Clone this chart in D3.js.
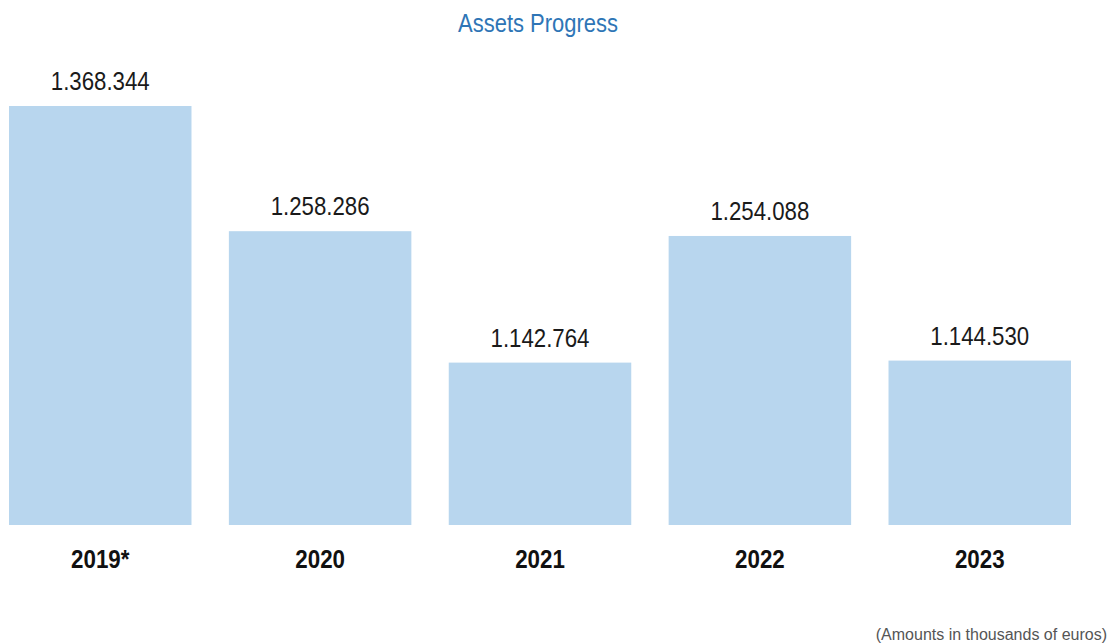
<!DOCTYPE html>
<html>
<head>
<meta charset="utf-8">
<script src="https://cdn.jsdelivr.net/npm/d3@7"></script>
<style>
  html, body { margin: 0; padding: 0; background: #fff; }
  svg { display: block; }
</style>
</head>
<body>
<svg id="chart" width="1110" height="644"></svg>
<script>
// Total assets per year (thousands of euros)
const years = ["2019*", "2020", "2021", "2022", "2023"];
const assets = [1368344, 1258286, 1142764, 1254088, 1144530];
const valueLabels = ["1.368.344", "1.258.286", "1.142.764", "1.254.088", "1.144.530"];

const W = 1110, H = 644;
const svg = d3.select("#chart");
const SANS = "'Liberation Sans', Arial, sans-serif";

const x = d3.scaleBand()
  .domain(years)
  .range([9, 1071])
  .paddingInner(0.17)
  .paddingOuter(0);

const y = d3.scaleLinear()
  .domain([1000000, 1368344])
  .range([525, 106]);

// Condensed text: horizontal squeeze around the anchor point
function narrowText(sel, sx) {
  sel.attr("transform", function () {
    const cx = +this.getAttribute("data-x"), cy = +this.getAttribute("data-y");
    return `translate(${cx},${cy}) scale(${sx},1)`;
  });
}

// Title
svg.append("text")
  .attr("data-x", 538).attr("data-y", 32)
  .attr("text-anchor", "middle")
  .attr("font-family", SANS)
  .attr("font-size", 26)
  .attr("fill", "#2e75b6")
  .text("Assets Progress")
  .call(narrowText, 0.845);

// Bars
svg.selectAll("rect.bar")
  .data(years)
  .join("rect")
  .attr("class", "bar")
  .attr("x", d => x(d))
  .attr("width", x.bandwidth())
  .attr("y", (d, i) => y(assets[i]))
  .attr("height", (d, i) => y.range()[0] - y(assets[i]))
  .attr("fill", "#b8d6ee");

// Value labels above bars
svg.selectAll("text.val")
  .data(years)
  .join("text")
  .attr("class", "val")
  .attr("data-x", d => x(d) + x.bandwidth() / 2)
  .attr("data-y", (d, i) => y(assets[i]) - 16)
  .attr("text-anchor", "middle")
  .attr("font-family", SANS)
  .attr("font-size", 25)
  .attr("fill", "#1a1a1a")
  .text((d, i) => valueLabels[i])
  .call(narrowText, 0.89);

// Category labels under bars
svg.selectAll("text.cat")
  .data(years)
  .join("text")
  .attr("class", "cat")
  .attr("data-x", d => x(d) + x.bandwidth() / 2)
  .attr("data-y", 568)
  .attr("text-anchor", "middle")
  .attr("font-family", SANS)
  .attr("font-weight", "bold")
  .attr("font-size", 26)
  .attr("fill", "#111")
  .text(d => d)
  .call(narrowText, 0.86);

// Footnote
svg.append("text")
  .attr("x", 1107).attr("y", 640)
  .attr("text-anchor", "end")
  .attr("font-family", SANS)
  .attr("font-size", 16)
  .attr("fill", "#555")
  .text("(Amounts in thousands of euros)");
</script>
</body>
</html>
